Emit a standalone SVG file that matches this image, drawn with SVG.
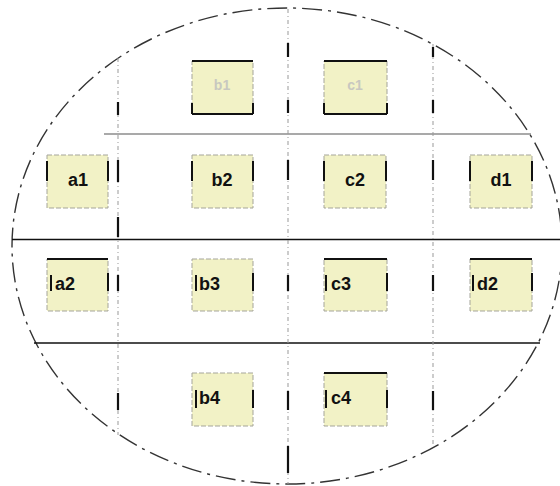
<svg xmlns="http://www.w3.org/2000/svg" width="560" height="486" viewBox="0 0 560 486">
<style>
.bg{fill:#ffffff}
.wafer{fill:none;stroke:#333;stroke-width:1.4;stroke-dasharray:20 6 3 6}
.hl{stroke:#111;stroke-width:1.6;fill:none}
.hl2{stroke:#555;stroke-width:1.2;fill:none}
.vl{stroke:#999;stroke-width:1;stroke-dasharray:4 3 1 3;fill:none}
.seg{stroke:#111;stroke-width:2.2;fill:none}
.box{fill:#f2f2c6;stroke:#a5a59a;stroke-width:1;stroke-dasharray:5 2}
.edge{stroke:#111;stroke-width:2;fill:none}
.lbl{font-family:"Liberation Sans",Arial,sans-serif;font-weight:bold;font-size:18px;fill:#111}
.faint{font-family:"Liberation Sans",Arial,sans-serif;font-weight:bold;font-size:14px;fill:#c8c8c0}
</style>
<rect class="bg" x="0" y="0" width="560" height="486"/>
<g id="connectors">
  <ellipse class="wafer" cx="287" cy="246" rx="275" ry="238"/>
  <line class="hl2" x1="104" y1="134" x2="531" y2="134"/>
  <line class="hl" x1="12" y1="239.5" x2="560" y2="239.5"/>
  <line class="hl" x1="34" y1="343" x2="540" y2="343"/>
  <line class="vl" x1="118" y1="58" x2="118" y2="435"/>
  <line class="vl" x1="288" y1="9" x2="288" y2="484"/>
  <line class="vl" x1="433" y1="44" x2="433" y2="446"/>
  <path class="seg" d="M118 102V115M118 160V182M118 217V237M118 275V291M118 393V410M288 43V57M288 100V113M288 160V180M288 275V291M288 391V410M288 446V473M433 47V57M433 100V113M433 160V180M433 275V291M433 391V410"/>
</g>
<g id="b1">
  <rect class="box" x="192" y="61" width="61" height="53"/>
  <path class="edge" d="M192 61H253M192 114H253M192 103V114M253 103V114"/>
  <text class="faint" x="222" y="90" text-anchor="middle">b1</text>
</g>
<g id="c1">
  <rect class="box" x="324" y="61" width="63" height="53"/>
  <path class="edge" d="M324 61H387M324 114H387M324 103V114M387 103V114"/>
  <text class="faint" x="355" y="90" text-anchor="middle">c1</text>
</g>
<g id="a1">
  <rect class="box" x="47" y="155" width="61" height="53"/>
  <path class="edge" d="M47 161V181M108 161V181"/>
  <text class="lbl" x="78" y="186" text-anchor="middle">a1</text>
</g>
<g id="b2">
  <rect class="box" x="192" y="155" width="61" height="53"/>
  <path class="edge" d="M192 161V181M253 161V181"/>
  <text class="lbl" x="222" y="186" text-anchor="middle">b2</text>
</g>
<g id="c2">
  <rect class="box" x="324" y="155" width="62" height="53"/>
  <path class="edge" d="M324 161V181M386 161V181"/>
  <text class="lbl" x="355" y="186" text-anchor="middle">c2</text>
</g>
<g id="d1">
  <rect class="box" x="470" y="155" width="62" height="53"/>
  <path class="edge" d="M470 161V181M532 161V181"/>
  <text class="lbl" x="501" y="186" text-anchor="middle">d1</text>
</g>
<g id="a2">
  <rect class="box" x="47" y="259" width="61" height="52"/>
  <path class="edge" d="M47 259H108M51 275V291M108 273V291"/>
  <text class="lbl" x="55" y="290">a2</text>
</g>
<g id="b3">
  <rect class="box" x="192" y="259" width="61" height="52"/>
  <path class="edge" d="M196 275V291M253 273V291"/>
  <text class="lbl" x="199" y="290">b3</text>
</g>
<g id="c3">
  <rect class="box" x="324" y="259" width="63" height="52"/>
  <path class="edge" d="M324 259H387M326 275V291M387 273V291"/>
  <text class="lbl" x="331" y="290">c3</text>
</g>
<g id="d2">
  <rect class="box" x="470" y="259" width="62" height="52"/>
  <path class="edge" d="M470 259H532M473 275V291M532 273V291"/>
  <text class="lbl" x="477" y="290">d2</text>
</g>
<g id="b4">
  <rect class="box" x="192" y="373" width="61" height="53"/>
  <path class="edge" d="M196 390V408M253 390V408"/>
  <text class="lbl" x="199" y="404">b4</text>
</g>
<g id="c4">
  <rect class="box" x="324" y="373" width="63" height="53"/>
  <path class="edge" d="M324 373H387M326 390V408M387 390V408"/>
  <text class="lbl" x="331" y="404">c4</text>
</g>
</svg>
